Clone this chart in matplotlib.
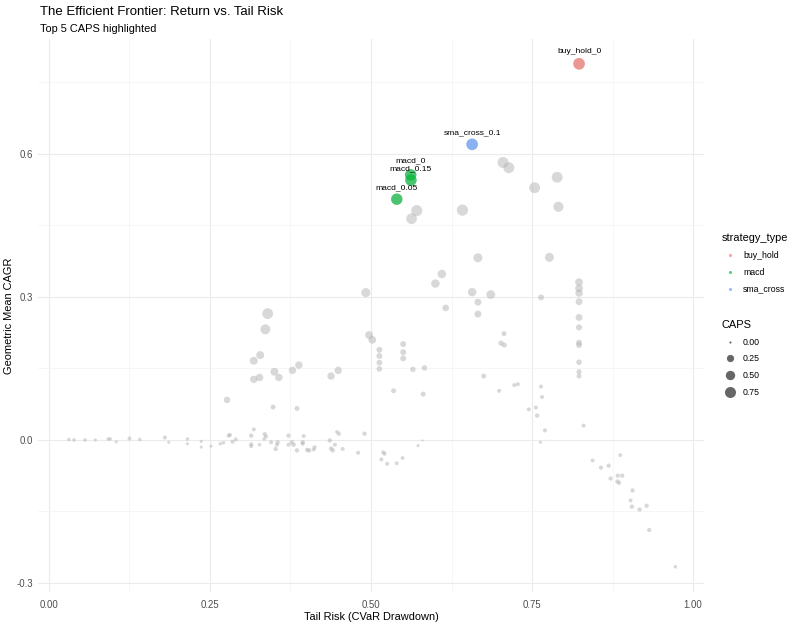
import numpy as np
import matplotlib
matplotlib.use("Agg")
import matplotlib.pyplot as plt
from matplotlib.lines import Line2D

plt.rcParams['font.family'] = ['Liberation Sans', 'DejaVu Sans']

# ---------------- data ----------------
# non-highlighted strategies (grey)
other_risk = [
    0.705, 0.714, 0.789, 0.754, 0.791, 0.642, 0.571, 0.563, 0.666, 0.777,
    0.610, 0.600, 0.492, 0.657, 0.686, 0.764, 0.823, 0.823, 0.823, 0.823,
    0.666, 0.666, 0.616, 0.823, 0.823, 0.823, 0.823, 0.823, 0.823, 0.823,
    0.497, 0.502, 0.513, 0.513, 0.513, 0.513, 0.550, 0.550, 0.550, 0.565,
    0.583, 0.7065, 0.702, 0.707, 0.675, 0.535, 0.581, 0.699, 0.7225, 0.728,
    0.764, 0.7655, 0.745, 0.756, 0.758, 0.770, 0.763, 0.830, 0.490, 0.580,
    0.573, 0.521, 0.516, 0.525, 0.540, 0.549, 0.844, 0.519,
    0.887, 0.857, 0.869, 0.872, 0.883, 0.890, 0.8825, 0.885, 0.906, 0.903,
    0.905, 0.917, 0.928, 0.932, 0.9725,
    0.3396, 0.336, 0.328, 0.318, 0.350, 0.357, 0.327, 0.318, 0.378, 0.388,
    0.438, 0.449, 0.348, 0.385, 0.2764,
    0.281, 0.285, 0.290, 0.314, 0.314, 0.314, 0.318, 0.327, 0.335, 0.337,
    0.334, 0.345, 0.352, 0.354, 0.355, 0.372, 0.372, 0.377, 0.380, 0.385,
    0.394, 0.3955, 0.394, 0.401, 0.404, 0.411, 0.4125, 0.436, 0.438, 0.4405,
    0.444, 0.447, 0.450, 0.456, 0.480,
    0.031, 0.039, 0.056, 0.072, 0.092, 0.095, 0.1045, 0.125, 0.141, 0.180,
    0.186, 0.215, 0.215, 0.2365, 0.2365, 0.2516, 0.266, 0.271, 0.279,
]
other_cagr = [
    0.582, 0.571, 0.551, 0.529, 0.489, 0.482, 0.481, 0.464, 0.382, 0.383,
    0.348, 0.328, 0.309, 0.310, 0.305, 0.299, 0.331, 0.318, 0.308, 0.290,
    0.289, 0.264, 0.277, 0.257, 0.236, 0.204, 0.199, 0.163, 0.143, 0.134,
    0.220, 0.210, 0.189, 0.176, 0.162, 0.149, 0.201, 0.184, 0.171, 0.148,
    0.151, 0.223, 0.203, 0.199, 0.134, 0.103, 0.096, 0.103, 0.115, 0.117,
    0.112, 0.090, 0.064, 0.068, 0.051, 0.020, -0.005, 0.030, 0.013, -0.001,
    -0.012, -0.029, -0.041, -0.050, -0.049, -0.038, -0.043, -0.026,
    -0.032, -0.058, -0.054, -0.081, -0.075, -0.075, -0.087, -0.090, -0.106, -0.127,
    -0.140, -0.146, -0.138, -0.189, -0.266,
    0.265, 0.232, 0.178, 0.166, 0.143, 0.131, 0.131, 0.127, 0.146, 0.157,
    0.134, 0.146, 0.069, 0.066, 0.084,
    0.0105, -0.004, 0.001, 0.009, -0.009, -0.013, 0.022, -0.010, 0.012, 0.007,
    0.002, -0.005, -0.019, -0.010, -0.005, 0.009, -0.010, -0.005, -0.010, -0.022,
    -0.005, 0.008, -0.008, -0.021, -0.022, -0.020, -0.015, -0.001, -0.018, -0.022,
    -0.010, 0.017, 0.013, -0.019, -0.027,
    0.001, 0.000, 0.000, 0.000, 0.002, 0.002, -0.004, 0.003, 0.001, 0.005,
    -0.005, 0.002, -0.008, -0.003, -0.015, -0.013, -0.008, -0.006, 0.009,
]
other_caps = [
    0.74, 0.74, 0.72, 0.72, 0.60, 0.78, 0.77, 0.70, 0.45, 0.45,
    0.38, 0.38, 0.45, 0.38, 0.42, 0.14, 0.30, 0.30, 0.27, 0.22,
    0.22, 0.22, 0.20, 0.22, 0.15, 0.14, 0.14, 0.11, 0.08, 0.08,
    0.32, 0.30, 0.14, 0.14, 0.13, 0.11, 0.14, 0.14, 0.13, 0.11,
    0.11, 0.08, 0.10, 0.08, 0.08, 0.08, 0.08, 0.035, 0.035, 0.035,
    0.035, 0.035, 0.035, 0.035, 0.05, 0.035, 0.01, 0.035, 0.05, 0.0,
    0.01, 0.035, 0.035, 0.035, 0.03, 0.03, 0.035, 0.035,
    0.03, 0.045, 0.045, 0.045, 0.045, 0.045, 0.045, 0.045, 0.045, 0.035,
    0.045, 0.045, 0.045, 0.045, 0.02,
    0.72, 0.58, 0.32, 0.32, 0.32, 0.27, 0.27, 0.26, 0.27, 0.27,
    0.27, 0.27, 0.08, 0.08, 0.18,
    0.035, 0.035, 0.035, 0.05, 0.035, 0.035, 0.035, 0.02, 0.05, 0.035,
    0.02, 0.035, 0.05, 0.035, 0.05, 0.05, 0.035, 0.05, 0.05, 0.05,
    0.05, 0.035, 0.035, 0.05, 0.05, 0.035, 0.035, 0.05, 0.05, 0.05,
    0.035, 0.02, 0.05, 0.035, 0.035,
    0.02, 0.02, 0.02, 0.01, 0.02, 0.02, 0.01, 0.035, 0.02, 0.035,
    0.01, 0.02, 0.01, 0.01, 0.01, 0.01, 0.02, 0.02, 0.035,
]

# top 5 CAPS (highlighted)
top_names = ['buy_hold_0', 'sma_cross_0.1', 'macd_0', 'macd_0.15', 'macd_0.05']
top_types = ['buy_hold', 'sma_cross', 'macd', 'macd', 'macd']
top_risk = [0.823, 0.657, 0.5616, 0.562, 0.540]
top_cagr = [0.789, 0.620, 0.556, 0.545, 0.505]
top_caps = [0.85, 0.84, 0.83, 0.82, 0.81]

type_levels = ['buy_hold', 'macd', 'sma_cross']
type_colors = ['#F8766D', '#00BA38', '#619CFF']
caps_breaks = [0.00, 0.25, 0.50, 0.75]

x_ticks = [0.00, 0.25, 0.50, 0.75, 1.00]
y_ticks = [-0.3, 0.0, 0.3, 0.6]

# ---------------- helpers ----------------
CAPS_MAX = 0.85


def caps_diam_pt(c):
    c = np.clip(np.asarray(c, dtype=float), 0, None)
    d_px = 2.1 + 9.5 * np.sqrt(c / CAPS_MAX)
    return d_px * 0.72


# ---------------- figure ----------------
fig = plt.figure(figsize=(8, 6.25), dpi=100)
ax = fig.add_axes([38 / 800, 1 - 592 / 625, (704 - 38) / 800, (592 - 39) / 625])

ax.set_xlim(-0.017, 1.017)
ax.set_ylim(-0.319, 0.841)

for s in ax.spines.values():
    s.set_visible(False)

ax.set_xticks(x_ticks)
ax.set_xticklabels(['0.00', '0.25', '0.50', '0.75', '1.00'])
ax.set_yticks(y_ticks)
ax.set_yticklabels(['-0.3', '0.0', '0.3', '0.6'])
ax.set_xticks([0.125, 0.375, 0.625, 0.875], minor=True)
ax.set_yticks([-0.15, 0.15, 0.45, 0.75], minor=True)
ax.tick_params(which='both', length=0)
ax.tick_params(axis='both', which='major', labelsize=6.9, labelcolor='#4D4D4D')
ax.tick_params(axis='x', which='major', pad=5.5)
ax.tick_params(axis='y', which='major', pad=3.5)
ax.grid(which='major', color='#EBEBEB', linewidth=0.8)
ax.grid(which='minor', color='#F2F2F2', linewidth=0.45)
ax.set_axisbelow(True)

# grey points (all strategies)
all_risk = list(other_risk) + list(top_risk)
all_cagr = list(other_cagr) + list(top_cagr)
all_caps = list(other_caps) + list(top_caps)
ax.scatter(all_risk, all_cagr, s=caps_diam_pt(all_caps) ** 2,
           color='#B3B3B3', alpha=0.5, linewidths=0, zorder=2)

# highlighted
col_map = dict(zip(type_levels, type_colors))
ax.scatter(top_risk, top_cagr, s=caps_diam_pt(top_caps) ** 2,
           color=[col_map[t] for t in top_types], alpha=0.65, linewidths=0, zorder=3)

label_dy = [8.5, 8.5, 10.0, 8.0, 8.5]  # text nudges (points), like ggrepel
for n, x, y, dy in zip(top_names, top_risk, top_cagr, label_dy):
    ax.annotate(n, (x, y), xytext=(0, dy), textcoords='offset points',
                ha='center', va='center', fontsize=6.1, color='black', zorder=4)

ax.set_xlabel('Tail Risk (CVaR Drawdown)', fontsize=7.9, labelpad=2)
ax.set_ylabel('Geometric Mean CAGR', fontsize=7.9, labelpad=1.5)

fig.text(40 / 800, 1 - 12 / 625, 'The Efficient Frontier: Return vs. Tail Risk',
         fontsize=9.5, ha='left', va='center')
fig.text(40 / 800, 1 - 29 / 625, 'Top 5 CAPS highlighted',
         fontsize=7.9, ha='left', va='center')

# legends
h1 = [Line2D([], [], marker='o', linestyle='none', markersize=2.3,
             markerfacecolor=c, markeredgewidth=0, alpha=0.65) for c in type_colors]
leg1 = ax.legend(h1, type_levels, title='strategy_type', loc='upper left',
                 bbox_to_anchor=(722 / 800, 1 - 233 / 625), bbox_transform=fig.transFigure,
                 frameon=False, fontsize=6.3, title_fontsize=7.9, alignment='left',
                 borderpad=0, borderaxespad=0, handlelength=1.8, handletextpad=0.6,
                 labelspacing=0.9)
ax.add_artist(leg1)

h2 = [Line2D([], [], marker='o', linestyle='none', markersize=float(caps_diam_pt(c)),
             markerfacecolor='black', markeredgewidth=0, alpha=0.6) for c in caps_breaks]
leg2 = ax.legend(h2, ['0.00', '0.25', '0.50', '0.75'], title='CAPS', loc='upper left',
                 bbox_to_anchor=(722 / 800, 1 - 320 / 625), bbox_transform=fig.transFigure,
                 frameon=False, fontsize=6.3, title_fontsize=7.9, alignment='left',
                 borderpad=0, borderaxespad=0, handlelength=1.8, handletextpad=0.6,
                 labelspacing=0.88)

fig.savefig('out.png', dpi=100)
